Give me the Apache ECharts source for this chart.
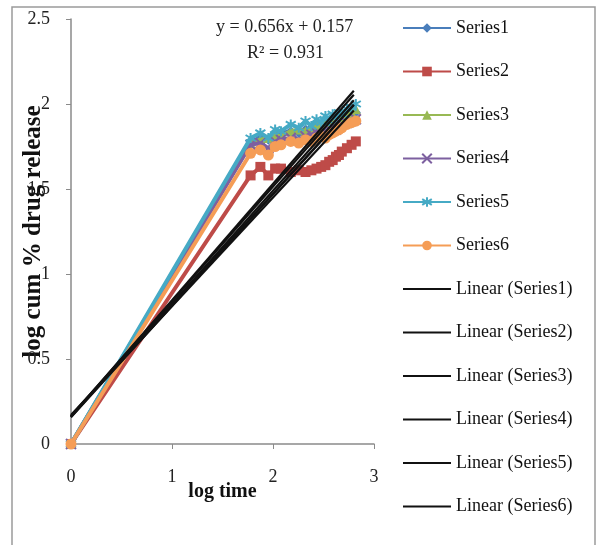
<!DOCTYPE html>
<html>
<head>
<meta charset="utf-8">
<script src="https://cdn.jsdelivr.net/npm/echarts@6/dist/echarts.min.js"></script>
<style>
  html, body { margin: 0; padding: 0; background: #fff; }
  #chart { width: 598px; height: 545px; }
</style>
</head>
<body>
<div id="chart"></div>
<script>
// log time values (x)
var logTime = [0, 1.778, 1.875, 1.954, 2.021, 2.079, 2.176, 2.255, 2.322, 2.380, 2.431,
               2.477, 2.519, 2.556, 2.591, 2.623, 2.653, 2.681, 2.732, 2.778, 2.820];

// log cum % drug release, one array per formulation
var series1 = [0, 1.78, 1.80, 1.79, 1.82, 1.83, 1.84, 1.83, 1.85, 1.86, 1.85, 1.87, 1.88, 1.87, 1.89, 1.90, 1.89, 1.91, 1.92, 1.93, 1.95];
var series2 = [0, 1.58, 1.63, 1.58, 1.62, 1.62, 1.60, 1.61, 1.60, 1.61, 1.62, 1.63, 1.64, 1.66, 1.67, 1.69, 1.70, 1.72, 1.74, 1.76, 1.78];
var series3 = [0, 1.77, 1.79, 1.80, 1.82, 1.81, 1.84, 1.85, 1.84, 1.86, 1.88, 1.87, 1.89, 1.90, 1.91, 1.90, 1.92, 1.93, 1.94, 1.95, 1.97];
var series4 = [0, 1.76, 1.77, 1.74, 1.78, 1.79, 1.80, 1.79, 1.81, 1.82, 1.83, 1.82, 1.84, 1.85, 1.86, 1.85, 1.87, 1.88, 1.89, 1.90, 1.91];
var series5 = [0, 1.80, 1.83, 1.80, 1.85, 1.84, 1.88, 1.86, 1.90, 1.87, 1.91, 1.89, 1.93, 1.90, 1.94, 1.92, 1.95, 1.94, 1.97, 1.98, 2.00];
var series6 = [0, 1.71, 1.73, 1.70, 1.75, 1.76, 1.78, 1.77, 1.79, 1.78, 1.80, 1.81, 1.80, 1.82, 1.83, 1.84, 1.85, 1.86, 1.88, 1.89, 1.90];

// linear trendlines (slope, intercept)
var trendSlope = [0.675, 0.640, 0.665, 0.655, 0.685, 0.656];
var trendIntercept = [0.165, 0.170, 0.160, 0.162, 0.160, 0.157];
var trendEnd = 2.80;

var seriesNames = ['Series1', 'Series2', 'Series3', 'Series4', 'Series5', 'Series6'];
var yTicks = [0, 0.5, 1, 1.5, 2, 2.5];
var xTicks = [0, 1, 2, 3];

var colors = ['#4A7EBB', '#BE4B48', '#98B954', '#7D60A0', '#46AAC5', '#F59D56'];
var symbols = [
    'diamond',
    'rect',
    'triangle',
    'path://M0,0L10,10M10,0L0,10',
    'path://M5,0L5,10M0,2L10,8M0,8L10,2',
    'circle'
];
var symbolSizes = [10, 10, 10, 10, 10, 11];
var allData = [series1, series2, series3, series4, series5, series6];

var chartSeries = [];
var legendData = [];
allData.forEach(function (vals, i) {
    var isStroke = i === 3 || i === 4;
    chartSeries.push({
        name: seriesNames[i],
        type: 'line',
        data: vals.map(function (v, k) { return [logTime[k], v]; }),
        symbol: symbols[i],
        symbolSize: symbolSizes[i],
        showAllSymbol: true,
        lineStyle: { color: colors[i], width: 4 },
        itemStyle: {
            color: colors[i],
            borderColor: colors[i],
            borderWidth: isStroke ? 2 : 0
        },
        z: 2 + i
    });
    legendData.push({ name: seriesNames[i] });
});
trendSlope.forEach(function (a, i) {
    var nm = 'Linear (' + seriesNames[i] + ')';
    chartSeries.push({
        name: nm,
        type: 'line',
        data: [[0, trendIntercept[i]], [trendEnd, a * trendEnd + trendIntercept[i]]],
        symbol: 'none',
        lineStyle: { color: '#111', width: 2.2 },
        itemStyle: { color: '#111' },
        z: 10
    });
    legendData.push({ name: nm, itemStyle: { opacity: 0 }, lineStyle: { color: '#111', width: 2 } });
});

var serif = '"Liberation Serif", "DejaVu Serif", serif';

var option = {
    animation: false,
    backgroundColor: '#fff',
    grid: { left: 71, right: 224, top: 19, bottom: 101, containLabel: false, outerBoundsMode: 'none' },
    xAxis: {
        type: 'value',
        min: 0, max: 3, interval: 1,
        name: 'log time',
        nameLocation: 'middle',
        nameGap: 38,
        nameMoveOverlap: false,
        nameTextStyle: { fontFamily: serif, fontWeight: 'bold', fontSize: 20, color: '#111' },
        axisLine: { lineStyle: { color: '#8a8a8a', width: 1.5 } },
        axisTick: { show: true, length: 5, lineStyle: { color: '#8a8a8a' } },
        axisLabel: {
            margin: 24, fontFamily: serif, fontSize: 18, color: '#222',
            formatter: function (v) { return xTicks.indexOf(v) >= 0 ? String(v) : ''; }
        },
        splitLine: { show: false }
    },
    yAxis: {
        type: 'value',
        min: 0, max: 2.5, interval: 0.5,
        name: 'log cum % drug release',
        nameLocation: 'middle',
        nameRotate: 90,
        nameGap: 25,
        nameMoveOverlap: false,
        nameTextStyle: { fontFamily: serif, fontWeight: 'bold', fontSize: 25, color: '#111' },
        axisLine: { show: true, lineStyle: { color: '#8a8a8a', width: 1.5 } },
        axisTick: { show: true, length: 5, lineStyle: { color: '#8a8a8a' } },
        axisLabel: {
            margin: 21, fontFamily: serif, fontSize: 18, color: '#222',
            formatter: function (v) { return yTicks.indexOf(v) >= 0 ? String(v) : ''; }
        },
        splitLine: { show: false }
    },
    legend: {
        orient: 'vertical',
        left: 397,
        top: 13,
        itemWidth: 48,
        itemHeight: 12,
        itemGap: 23.5,
        textStyle: { fontFamily: serif, fontSize: 18, color: '#111', lineHeight: 20 },
        data: legendData
    },
    graphic: [
        {
            type: 'rect',
            shape: { x: 12, y: 7, width: 583, height: 560 },
            style: { fill: 'none', stroke: '#9a9a9a', lineWidth: 1.5 },
            silent: true
        },
        {
            type: 'text',
            left: 216, top: 18,
            style: { text: 'y = 0.656x + 0.157', fontFamily: serif, fontSize: 18, fill: '#222' }
        },
        {
            type: 'text',
            left: 247, top: 44,
            style: { text: 'R² = 0.931', fontFamily: serif, fontSize: 18, fill: '#222' }
        }
    ],
    series: chartSeries
};

var myChart = echarts.init(document.getElementById('chart'));
myChart.setOption(option);
</script>
</body>
</html>
